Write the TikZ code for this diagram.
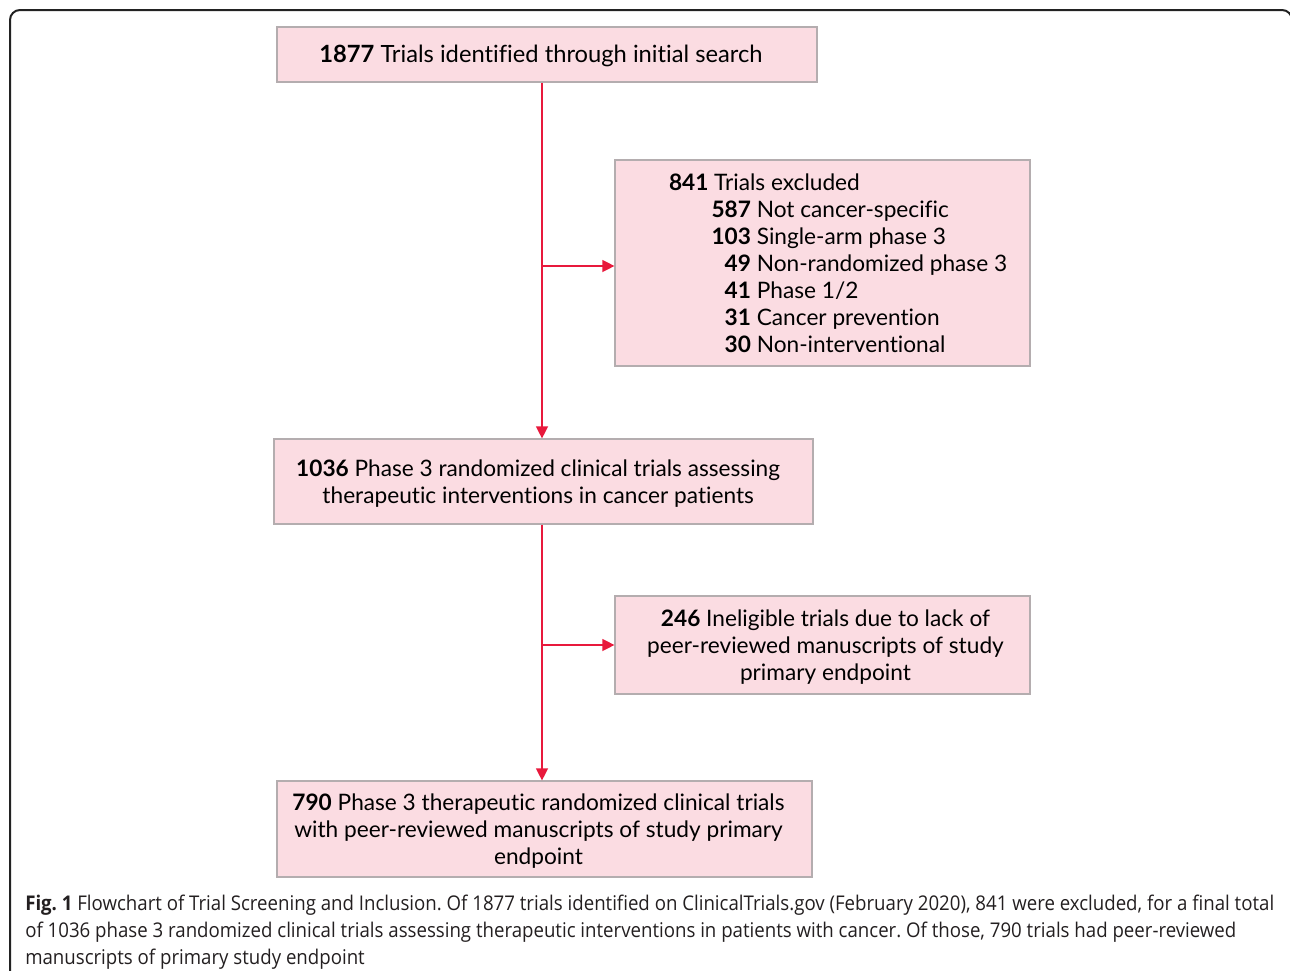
\documentclass[tikz,border=0pt]{standalone}
\usepackage{fontspec}
\setmainfont[Ligatures={NoCommon}]{Lato}
\newfontfamily\capfont[FakeStretch=0.92,Ligatures={NoCommon}]{Open Sans}
\usetikzlibrary{arrows.meta}
\definecolor{boxfill}{HTML}{FBDCE2}
\definecolor{boxline}{HTML}{B4ADAF}
\definecolor{arrred}{HTML}{E8193C}
\definecolor{captext}{HTML}{231F20}
\definecolor{framecol}{HTML}{222222}
\newcommand\exrow[2]{\makebox[61.5pt][r]{\textbf{#1}} #2}
% shift the text block of a box by (#1 right, 2.25pt down) without changing its size
\newcommand\shiftbox[2]{\raisebox{-2.25pt}[\height][\depth]{\kern#1\begin{tabular}{@{}c@{}}#2\end{tabular}\kern-#1}}
\frenchspacing
\begin{document}
\begin{tikzpicture}[x=0.75pt,y=-0.75pt,
  box/.style={draw=boxline, line width=0.9pt, fill=boxfill, inner sep=0pt,
    font=\fontsize{17}{20.25}\selectfont, align=center},
  flow/.style={draw=arrred, line width=1pt, -{Triangle[length=9pt,width=9pt]}},
  captionstyle/.style={inner sep=0pt, align=left, text=captext,
    font=\capfont\fontsize{15.2}{20.25}\selectfont}]
\useasboundingbox (0,0) rectangle (1290,971);
\clip (0,0) rectangle (1290,971);
% frame
\draw[framecol, line width=1.5pt, rounded corners=7.5pt] (10,1000) -- (10,10) -- (1292,10) -- (1292,1000);
% boxes
\node[box, font=\fontsize{17.8}{20.25}\selectfont, minimum width=0.75pt*540, minimum height=0.75pt*55] (ident) at (547,54.5)
  {\shiftbox{-4.5pt}{\textbf{1877} Trials identified through initial search}};
\node[box, minimum width=0.75pt*415, minimum height=0.75pt*206] (excl) at (822.5,263)
  {\raisebox{-2.25pt}[\height][\depth]{\makebox[230.25pt][l]{\begin{tabular}{@{}l@{}}
    \textbf{841} Trials excluded\\
    \exrow{587}{Not cancer-specific}\\
    \exrow{103}{Single-arm phase 3}\\
    \exrow{49}{Non-randomized phase 3}\\
    \exrow{41}{Phase 1/2}\\
    \exrow{31}{Cancer prevention}\\
    \exrow{30}{Non-interventional}
  \end{tabular}}}};
\node[box, minimum width=0.75pt*539, minimum height=0.75pt*85] (rand) at (543.5,481.5)
  {\shiftbox{-4pt}{\textbf{1036} Phase 3 randomized clinical trials assessing\\therapeutic interventions in cancer patients}};
\node[box, minimum width=0.75pt*415, minimum height=0.75pt*98] (inel) at (822.5,645)
  {\shiftbox{2.25pt}{\textbf{246} Ineligible trials due to lack of\\peer-reviewed manuscripts of study\\primary endpoint}};
\node[box, minimum width=0.75pt*535, minimum height=0.75pt*96] (final) at (544.5,829)
  {\shiftbox{-4.5pt}{\textbf{790} Phase 3 therapeutic randomized clinical trials\\with peer-reviewed manuscripts of study primary\\endpoint}};
% connectors
\coordinate (ax) at (542,0);
\coordinate (j1) at (542,266);
\coordinate (j2) at (542,645);
\draw[flow] (ident.south -| ax) -- (rand.north -| ax);
\draw[flow] (j1) -- (j1 -| excl.west);
\draw[flow] (rand.south -| ax) -- (final.north -| ax);
\draw[flow] (j2) -- (j2 -| inel.west);
% caption
\node[captionstyle, anchor=north west] (cap) at (25,895)
  {\textbf{Fig. 1} Flowchart of Trial Screening and Inclusion. Of 1877 trials identified on ClinicalTrials.gov (February 2020), 841 were excluded, for a final total\\
  of 1036 phase 3 randomized clinical trials assessing therapeutic interventions in patients with cancer. Of those, 790 trials had peer-reviewed\\
  manuscripts of primary study endpoint};
\end{tikzpicture}
\end{document}
